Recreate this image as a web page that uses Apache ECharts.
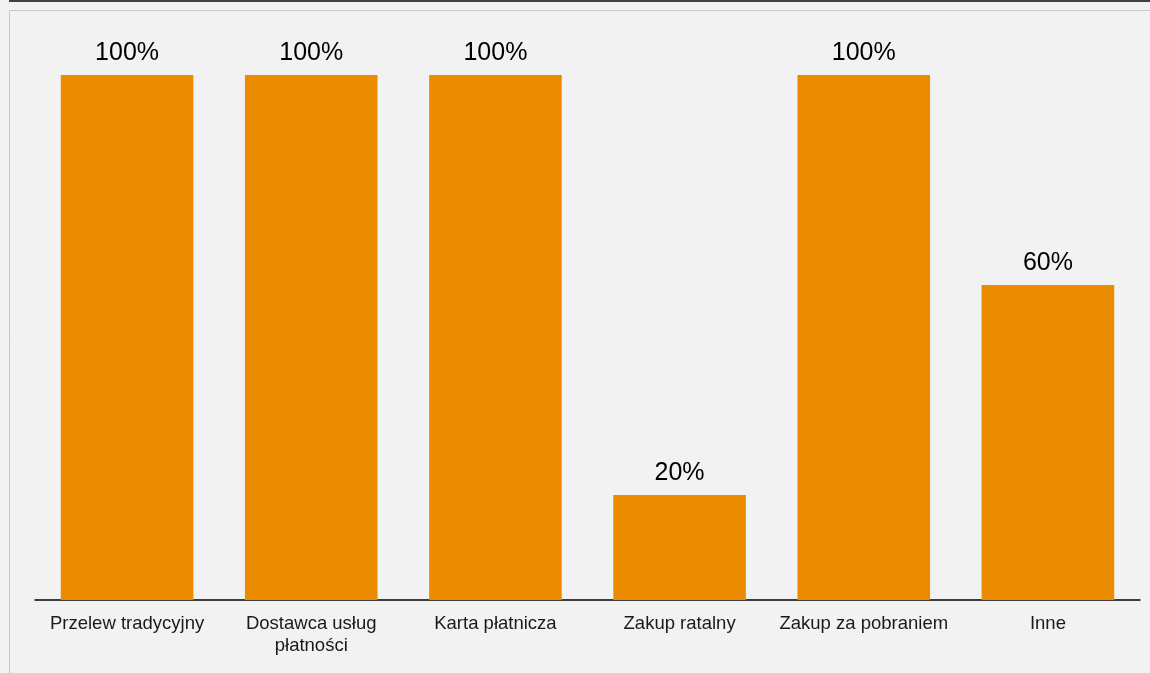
<!DOCTYPE html>
<html><head><meta charset="utf-8">
<script src="https://cdn.jsdelivr.net/npm/echarts@6/dist/echarts.min.js"></script>
<style>html,body{margin:0;padding:0;background:#f2f2f2;}#c{width:1150px;height:673px;}</style>
</head><body><div id="c"></div>
<script>
const categories = ["Przelew tradycyjny", "Dostawca usług\npłatności", "Karta płatnicza", "Zakup ratalny", "Zakup za pobraniem", "Inne"];
const values = [100, 100, 100, 20, 100, 60];

const chart = echarts.init(document.getElementById('c'));
chart.setOption({
  backgroundColor: '#f2f2f2',
  animation: false,
  graphic: [
    {type: 'rect', shape: {x: 9, y: 0, width: 1141, height: 2}, style: {fill: '#404040'}, silent: true},
    {type: 'rect', shape: {x: 9.5, y: 10.5, width: 1150, height: 700}, style: {fill: 'none', stroke: '#c8c8c8', lineWidth: 1}, silent: true}
  ],
  grid: {left: 35, right: 10, top: 75, bottom: 73},
  xAxis: {
    type: 'category', data: categories,
    axisLine: {lineStyle: {color: '#000', width: 1.5}},
    axisTick: {show: false},
    axisLabel: {color: '#1a1a1a', fontSize: 18.5, fontFamily: 'Liberation Sans, Arial, sans-serif', margin: 13, lineHeight: 22, interval: 0}
  },
  yAxis: {type: 'value', min: 0, max: 100, show: false, splitLine: {show: false}},
  series: [{
    type: 'bar', data: values, barCategoryGap: '28%',
    itemStyle: {color: '#eb8c00'},
    label: {show: true, position: 'top', distance: 9, formatter: '{c}%', color: '#000', fontSize: 25, fontFamily: 'Liberation Sans, Arial, sans-serif'}
  }]
});
</script></body></html>
